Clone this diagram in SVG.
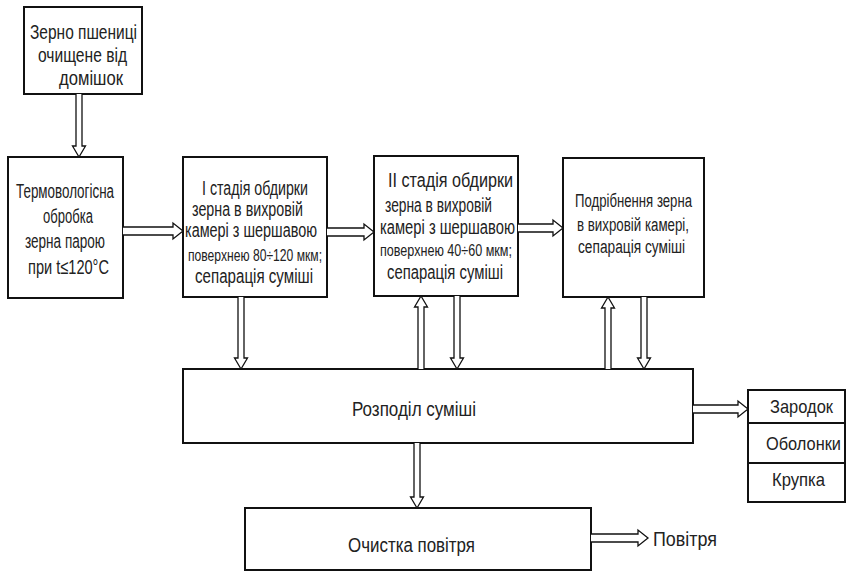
<svg xmlns="http://www.w3.org/2000/svg" width="848" height="575" viewBox="0 0 848 575">
<style>
.box{fill:#fff;stroke:#111;stroke-width:2}
.t{font-family:"Liberation Sans",Arial,sans-serif;font-size:20px;fill:#222}
.s{font-size:16px}
.m{font-size:18px}
.o{font-size:19px}
.arr{fill:#fff;stroke:#111;stroke-width:1.3;stroke-linejoin:miter}
</style>
<rect width="848" height="575" fill="#fff"/>
<g id="n1">
<rect class="box" x="24" y="7" width="118" height="87"/>
<text class="t" x="30" y="39" textLength="107" lengthAdjust="spacingAndGlyphs">Зерно пшениці</text>
<text class="t" x="38" y="62" textLength="89" lengthAdjust="spacingAndGlyphs">очищене від</text>
<text class="t" x="59" y="85" textLength="64" lengthAdjust="spacingAndGlyphs">домішок</text>
</g>
<g id="n2">
<rect class="box" x="8" y="157" width="115" height="141"/>
<text class="t" x="16" y="198" textLength="98" lengthAdjust="spacingAndGlyphs">Термовологісна</text>
<text class="t" x="43" y="223" textLength="50" lengthAdjust="spacingAndGlyphs">обробка</text>
<text class="t" x="25" y="248" textLength="80" lengthAdjust="spacingAndGlyphs">зерна парою</text>
<text class="t" x="28" y="274" textLength="81" lengthAdjust="spacingAndGlyphs">при  t≤120°С</text>
</g>
<g id="n3">
<rect class="box" x="183" y="157" width="144" height="140"/>
<text class="t" x="202" y="195" textLength="106" lengthAdjust="spacingAndGlyphs">І стадія обдирки</text>
<text class="t" x="192" y="216" textLength="111" lengthAdjust="spacingAndGlyphs">зерна в вихровій</text>
<text class="t" x="185" y="237" textLength="132" lengthAdjust="spacingAndGlyphs">камері з шершавою</text>
<text class="t s" x="188" y="261" textLength="134" lengthAdjust="spacingAndGlyphs">поверхнею 80÷120 мкм;</text>
<text class="t" x="195" y="283" textLength="118" lengthAdjust="spacingAndGlyphs">сепарація суміші</text>
</g>
<g id="n4">
<rect class="box" x="374" y="156" width="144" height="140"/>
<text class="t" x="388" y="187" textLength="125" lengthAdjust="spacingAndGlyphs">ІІ стадія обдирки</text>
<text class="t" x="385" y="212" textLength="107" lengthAdjust="spacingAndGlyphs">зерна в вихровій</text>
<text class="t" x="380" y="234" textLength="135" lengthAdjust="spacingAndGlyphs">камері з шершавою</text>
<text class="t s" x="380" y="256" textLength="132" lengthAdjust="spacingAndGlyphs">поверхнею 40÷60 мкм;</text>
<text class="t" x="387" y="279" textLength="116" lengthAdjust="spacingAndGlyphs">сепарація суміші</text>
</g>
<g id="n5">
<rect class="box" x="563" y="158" width="141" height="139"/>
<text class="t m" x="575" y="207" textLength="117" lengthAdjust="spacingAndGlyphs">Подрібнення зерна</text>
<text class="t m" x="577" y="231" textLength="112" lengthAdjust="spacingAndGlyphs">в вихровій камері,</text>
<text class="t m" x="578" y="253" textLength="107" lengthAdjust="spacingAndGlyphs">сепарація суміші</text>
</g>
<g id="n6">
<rect class="box" x="183" y="369" width="510" height="74"/>
<text class="t" x="352" y="416" textLength="124" lengthAdjust="spacingAndGlyphs">Розподіл суміші</text>
</g>
<g id="n7">
<rect class="box" x="748" y="390" width="97" height="33"/>
<text class="t o" x="770" y="413" textLength="63" lengthAdjust="spacingAndGlyphs">Зародок</text>
</g>
<g id="n8">
<rect class="box" x="748" y="423" width="97" height="40"/>
<text class="t" x="766" y="450" style="font-size:17.5px" textLength="75" lengthAdjust="spacingAndGlyphs">Оболонки</text>
</g>
<g id="n9">
<rect class="box" x="748" y="463" width="97" height="39"/>
<text class="t o" x="772" y="486" textLength="53" lengthAdjust="spacingAndGlyphs">Крупка</text>
</g>
<g id="n10">
<rect class="box" x="245" y="508" width="346" height="62"/>
<text class="t" x="348" y="552" textLength="127" lengthAdjust="spacingAndGlyphs">Очистка повітря</text>
</g>
<g id="n11">
<text class="t" x="653" y="546" textLength="64" lengthAdjust="spacingAndGlyphs">Повітря</text>
</g>
<g id="connectors">
<path class="arr" d="M76 94 V146 H72.5 L79 157 L85.5 146 H82 V94"/>
<path class="arr" d="M123 227 H173 V223 L183 231 L173 239 V235 H123"/>
<path class="arr" d="M327 228 H364 V224 L374 232 L364 240 V236 H327"/>
<path class="arr" d="M518 224 H553 V220 L563 228 L553 236 V232 H518"/>
<path class="arr" d="M238 297 V358 H234.5 L241 369 L247.5 358 H244 V297"/>
<path class="arr" d="M418 369 V307 H414.5 L421 296 L427.5 307 H424 V369"/>
<path class="arr" d="M454 296 V358 H450.5 L457 369 L463.5 358 H460 V296"/>
<path class="arr" d="M605 369 V308 H601.5 L608 297 L614.5 308 H611 V369"/>
<path class="arr" d="M641 297 V358 H637.5 L644 369 L650.5 358 H647 V297"/>
<path class="arr" d="M693 405 H738 V401 L748 409 L738 417 V413 H693"/>
<path class="arr" d="M414 443 V497 H410.5 L417 508 L423.5 497 H420 V443"/>
<path class="arr" d="M591 534 H638 V530 L648 538 L638 546 V542 H591"/>
</g>
</svg>
